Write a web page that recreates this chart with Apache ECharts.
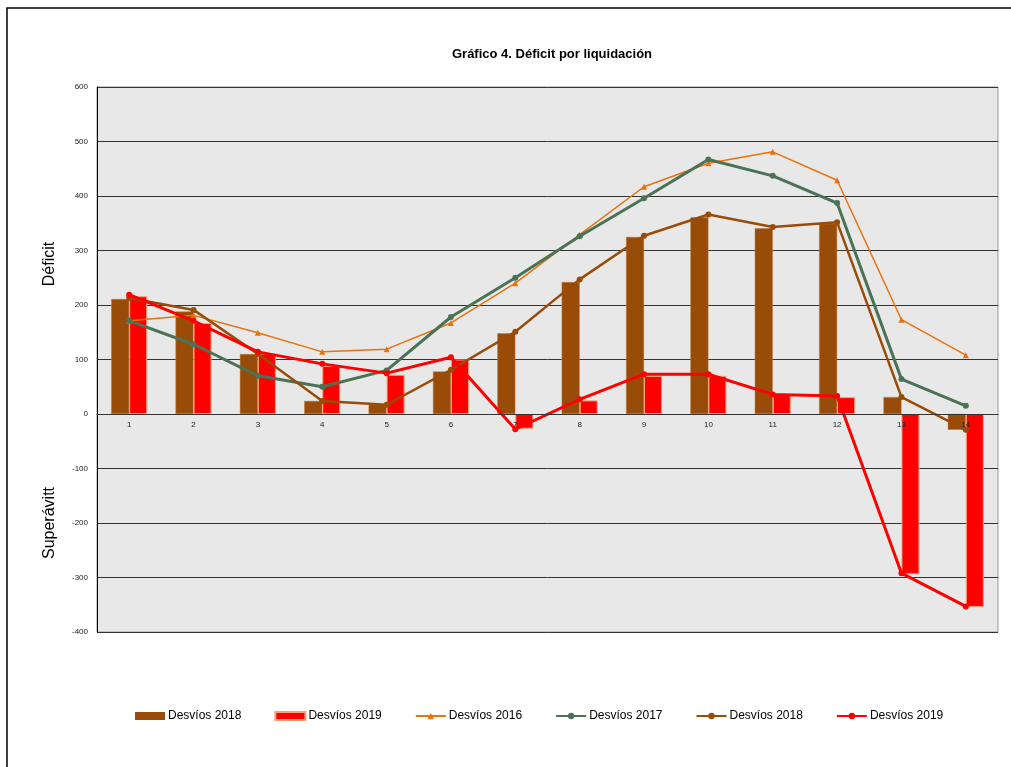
<!DOCTYPE html>
<html>
<head>
<meta charset="utf-8">
<script src="https://cdn.jsdelivr.net/npm/echarts@6/dist/echarts.min.js"></script>
<style>
html,body{margin:0;padding:0;background:#fff;}
#c{width:1011px;height:767px;}
</style>
</head>
<body>
<div id="c"></div>
<script>
const categories = ['1','2','3','4','5','6','7','8','9','10','11','12','13','14'];
const yTicks = [-400, -300, -200, -100, 0, 100, 200, 300, 400, 500, 600];
const bars2018 = [211, 188, 110, 24, 17, 78, 148, 242, 325, 361, 341, 349, 31, -29];
const bars2019 = [216, 167, 111, 88, 72, 100, -27, 25, 70, 70, 35, 31, -294, -354];
const line2016 = [171, 181, 149, 114, 119, 167, 240, 329, 417, 460, 481, 429, 173, 108];
const line2017 = [171, 128, 70, 50, 80, 178, 250, 326, 396, 467, 437, 387, 64, 15];
const line2018 = [213, 191, 110, 24, 17, 81, 151, 247, 327, 366, 343, 352, 31, -29];
const line2019 = [219, 171, 114, 92, 75, 104, -28, 27, 73, 73, 36, 33, -292, -353];

const chart = echarts.init(document.getElementById('c'), null, {renderer: 'canvas'});
const font = '"Liberation Sans", Arial, sans-serif';
const LINE = ' \u00a0';
const gridTop = 87, gridBottom = 135, plotH = 767 - gridTop - gridBottom;
const yMin = yTicks[0], yMax = yTicks[yTicks.length-1];
const zeroOffset = -plotH * (0 - yMin) / (yMax - yMin);
chart.setOption({
  animation: false,
  backgroundColor: '#ffffff',
  textStyle: {fontFamily: font},
  title: {
    text: 'Gráfico 4. Déficit por liquidación',
    left: 547, top: 43, textAlign: 'center',
    textStyle: {fontFamily: font, fontSize: 13, fontWeight: 'bold', color: '#000'}
  },
  graphic: [
    {type: 'rect', shape: {x: 7, y: 8, width: 1020, height: 800}, style: {fill: 'none', stroke: '#000', lineWidth: 1.5}, silent: true, z: -10},
    {type: 'text', x: 50, y: 264, rotation: Math.PI/2, style: {text: 'Déficit', font: '16px ' + font, fill: '#000', textAlign: 'center', textVerticalAlign: 'middle'}},
    {type: 'text', x: 50, y: 523, rotation: Math.PI/2, style: {text: 'Superávitt', font: '16px ' + font, fill: '#000', textAlign: 'center', textVerticalAlign: 'middle'}}
  ],
  legend: {
    bottom: 40, left: 130,
    itemWidth: 30, itemHeight: 8, itemGap: 33,
    textStyle: {fontFamily: font, fontSize: 12, color: '#000', padding: [0,0,0,-2]},
    formatter: n => n.replace(LINE, ''),
    data: [
      {name: 'Desvíos 2018', icon: 'rect', itemStyle: {borderWidth: 0}},
      {name: 'Desvíos 2019', icon: 'rect'},
      'Desvíos 2016', 'Desvíos 2017', 'Desvíos 2018' + LINE, 'Desvíos 2019' + LINE]
  },
  grid: {left: 97, right: 13, top: gridTop, bottom: gridBottom, show: true, backgroundColor: '#e8e8e8', borderColor: '#999', borderWidth: 1},
  xAxis: {
    type: 'category', data: categories, z: 5, position: 'bottom', offset: zeroOffset,
    axisLine: {onZero: false, lineStyle: {color: '#333', width: 1}},
    axisTick: {show: false},
    axisLabel: {fontSize: 8, color: '#222', margin: 7, fontFamily: font}
  },
  yAxis: {
    type: 'value', min: yMin, max: yMax, interval: 100,
    axisLine: {show: true, lineStyle: {color: '#000', width: 1}},
    axisTick: {show: false},
    axisLabel: {fontSize: 8, color: '#222', margin: 9, fontFamily: font},
    splitLine: {show: true, lineStyle: {color: '#333', width: 1}}
  },
  series: [
    {name: 'Desvíos 2018', type: 'bar', data: bars2018, barWidth: 18, barGap: '0%',
     itemStyle: {color: '#994c08', borderColor: '#c07a3a', borderWidth: 0.5}},
    {name: 'Desvíos 2019', type: 'bar', data: bars2019, barWidth: 18, barGap: '0%',
     itemStyle: {color: '#ff0000', borderColor: '#f7a07a', borderWidth: 1}},
    {name: 'Desvíos 2016', type: 'line', data: line2016, symbol: 'triangle', symbolSize: 6,
     lineStyle: {color: '#e8720c', width: 1.5}, itemStyle: {color: '#e8720c'}, z: 3},
    {name: 'Desvíos 2017', type: 'line', data: line2017, symbol: 'circle', symbolSize: 6,
     lineStyle: {color: '#4a7356', width: 3}, itemStyle: {color: '#4a7356'}, z: 3},
    {name: 'Desvíos 2018' + LINE, type: 'line', data: line2018, symbol: 'circle', symbolSize: 6,
     lineStyle: {color: '#994c08', width: 2.5}, itemStyle: {color: '#994c08'}, z: 4},
    {name: 'Desvíos 2019' + LINE, type: 'line', data: line2019, symbol: 'circle', symbolSize: 6,
     lineStyle: {color: '#ff0000', width: 3}, itemStyle: {color: '#ff0000'}, z: 4}
  ]
});
</script>
</body>
</html>
